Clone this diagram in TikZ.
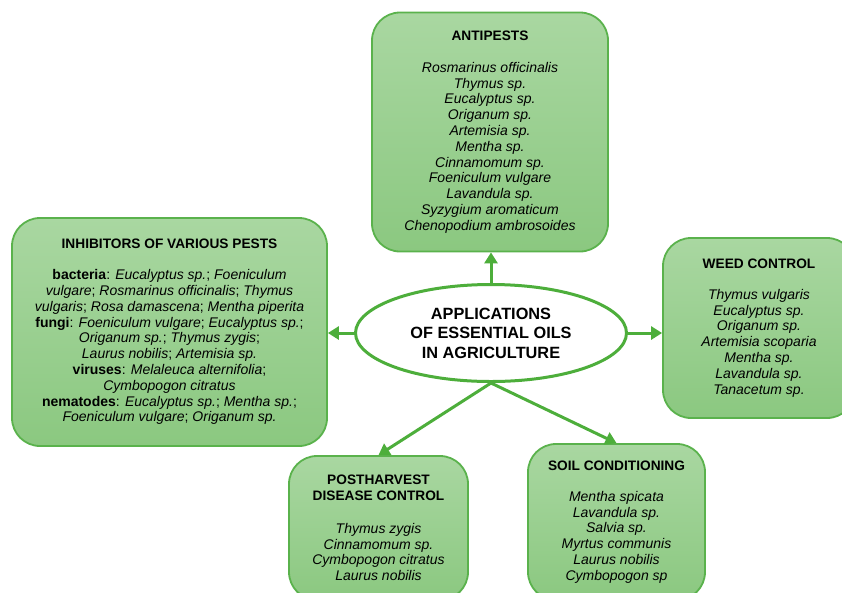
\documentclass[tikz,border=0pt]{standalone}
\usepackage{fontspec}
\setmainfont{Liberation Sans}
\usetikzlibrary{arrows.meta,shapes.geometric}

\definecolor{leafTop}{HTML}{A9D7A1}
\definecolor{leafBot}{HTML}{8BC880}
\definecolor{leafLine}{HTML}{5AB24C}
\definecolor{leafArrow}{HTML}{4DAE3B}

\tikzset{
  usebox/.style={draw=leafLine, line width=1.8pt, rounded corners=28pt,
    top color=leafTop, bottom color=leafBot, align=center, inner sep=0pt,
    font=\fontsize{14}{15.8}\selectfont\itshape},
  hub/.style={ellipse, draw=leafArrow, line width=3pt, fill=white,
    minimum width=271pt, minimum height=97pt, align=center,
    font=\fontsize{16.3}{19.5}\selectfont\bfseries},
  spoke/.style={draw=leafArrow, line width=3pt, -{Triangle[length=11pt,width=13pt]}}
}
\newcommand{\boxtitle}[1]{{\upshape\bfseries\fontsize{13.7}{15.8}\selectfont #1}}

\begin{document}
\begin{tikzpicture}[x=1pt, y=-1pt]
  \useasboundingbox (0,0) rectangle (842,592);
  \clip (0,0) rectangle (842,592);

  % Central topic
  \node[hub] (hub) at (491,333) {APPLICATIONS\\OF ESSENTIAL OILS\\IN AGRICULTURE};

  % Application boxes
  \node[usebox, minimum width=236pt, minimum height=239pt] (antipests) at (490,132)
    {\boxtitle{ANTIPESTS}\\[16pt]
     Rosmarinus officinalis\\ Thymus sp.\\ Eucalyptus sp.\\ Origanum sp.\\
     Artemisia sp.\\ Mentha sp.\\ Cinnamomum sp.\\ Foeniculum vulgare\\
     Lavandula sp.\\ Syzygium aromaticum\\ Chenopodium ambrosoides};

  \node[usebox, font=\fontsize{14}{15.8}\selectfont, minimum width=315pt, minimum height=228pt] (inhib) at (169.5,332)
    {\boxtitle{INHIBITORS OF VARIOUS PESTS}\\[15pt]
     \textbf{bacteria}: \textit{Eucalyptus sp.}; \textit{Foeniculum}\\
     \textit{vulgare}; \textit{Rosmarinus officinalis}; \textit{Thymus}\\
     \textit{vulgaris}; \textit{Rosa damascena}; \textit{Mentha piperita}\\
     \textbf{fungi}: \textit{Foeniculum vulgare}; \textit{Eucalyptus sp.};\\
     \textit{Origanum sp.}; \textit{Thymus zygis};\\
     \textit{Laurus nobilis}; \textit{Artemisia sp.}\\
     \textbf{viruses}: \textit{Melaleuca alternifolia};\\
     \textit{Cymbopogon citratus}\\
     \textbf{nematodes}: \textit{Eucalyptus sp.}; \textit{Mentha sp.};\\
     \textit{Foeniculum vulgare}; \textit{Origanum sp.}};

  \node[usebox, minimum width=192pt, minimum height=180pt] (weed) at (759,328)
    {\boxtitle{WEED CONTROL}\\[15pt]
     Thymus vulgaris\\ Eucalyptus sp.\\ Origanum sp.\\ Artemisia scoparia\\
     Mentha sp.\\ Lavandula sp.\\ Tanacetum sp.};

  \node[usebox, minimum width=179pt, minimum height=144pt] (post) at (378.5,528)
    {\boxtitle{POSTHARVEST}\\ \boxtitle{DISEASE CONTROL}\\[17pt]
     Thymus zygis\\ Cinnamomum sp.\\ Cymbopogon citratus\\ Laurus nobilis};

  \node[usebox, minimum width=177pt, minimum height=156pt] (soil) at (616.5,522)
    {\boxtitle{SOIL CONDITIONING}\\[15pt]
     Mentha spicata\\ Lavandula sp.\\ Salvia sp.\\ Myrtus communis\\
     Laurus nobilis\\ Cymbopogon sp};

  % Arrows from the centre
  \draw[spoke] (hub.north) -- (hub.north |- antipests.south);
  \draw[spoke] (hub.west) -- (inhib.east |- hub.west);
  \draw[spoke] (hub.east) -- (weed.west |- hub.east);
  \draw[spoke] (hub.south) -- (post.north);
  \draw[spoke] (hub.south) -- (soil.north);
\end{tikzpicture}
\end{document}
